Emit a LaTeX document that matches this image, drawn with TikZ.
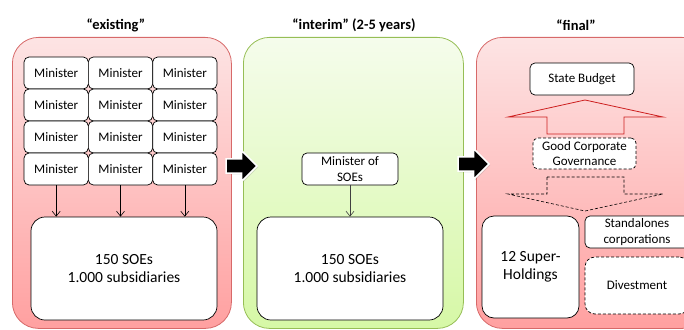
\documentclass[tikz,border=0pt]{standalone}
\usepackage{fontspec}
\setmainfont{Carlito}
\usetikzlibrary{arrows.meta,shapes.arrows,shadows}

\definecolor{pinkTop}{RGB}{253,228,228}
\definecolor{pinkBot}{RGB}{255,160,160}
\definecolor{pinkLine}{RGB}{215,105,105}
\definecolor{greenTop}{RGB}{245,252,236}
\definecolor{greenBot}{RGB}{214,248,166}
\definecolor{greenLine}{RGB}{150,190,85}
\definecolor{budgetRed}{RGB}{205,30,30}

\tikzset{
	panel/.style={rounded corners=26pt, line width=0.8pt, anchor=north west, minimum height=291pt},
	redpanel/.style={panel, draw=pinkLine, top color=pinkTop, bottom color=pinkBot},
	greenpanel/.style={panel, draw=greenLine, top color=greenTop, bottom color=greenBot},
	title/.style={font=\fontsize{14.5}{16}\selectfont\bfseries},
	smallbox/.style={draw, fill=white, rounded corners=5pt, line width=0.7pt, align=center,
		font=\fontsize{13}{15.5}\selectfont, inner sep=1pt},
	minbox/.style={smallbox, minimum width=64.3pt, minimum height=32pt},
	bigbox/.style={draw, fill=white, rounded corners=14pt, line width=0.7pt, align=center,
		font=\fontsize{15.5}{18}\selectfont},
	dashbox/.style={smallbox, dash pattern=on 3pt off 2pt},
	conn/.style={-{Straight Barb[length=5pt,width=8pt]}, line width=0.6pt},
	blockarrow/.style={single arrow, fill=black, draw=white, line width=1.6pt, inner sep=6pt,
		minimum height=31pt, minimum width=31pt, single arrow head extend=8pt,
		drop shadow={shadow xshift=1.2pt, shadow yshift=-1.2pt, opacity=0.25}}
}

\begin{document}
\begin{tikzpicture}[x=1pt,y=-1pt]
	\useasboundingbox (0,0) rectangle (684,329);
	\clip (0,0) rectangle (684,329);

	% three stages
	\node [redpanel, minimum width=219pt] (existing) at (12,37) {};
	\node [greenpanel, minimum width=220pt] (interim) at (243,37) {};
	\node [redpanel, minimum width=232pt] (final) at (476,37) {};

	\node [title] (t-existing) at (116,25) {“existing”};
	\node [title] (t-interim) at (354,25) {“interim” (2-5 years)};
	\node [title] (t-final) at (576,25) {“final”};

	\node [blockarrow] (next-a) at (238,166) {};
	\node [blockarrow] (next-b) at (470,164) {};

	% existing
	\foreach \r in {1,...,4}
		\foreach \c in {1,2,3}
			\node [minbox] (m-\r-\c) at ({56.2+64.3*(\c-1)}, {73+32*(\r-1)}) {Minister};

	\node [bigbox, minimum width=186pt, minimum height=103pt] (soe-a) at (124,268.5) {150 SOEs\\1.000 subsidiaries};

	\foreach \c in {1,2,3}
		\draw [conn] (m-4-\c.south) -- (m-4-\c.south |- soe-a.north);

	% interim
	\node [smallbox, minimum width=96pt, minimum height=32pt] (min-soe) at (350,169) {Minister of\\SOEs};
	\node [bigbox, minimum width=186pt, minimum height=103pt] (soe-b) at (350,268.5) {150 SOEs\\1.000 subsidiaries};
	\draw [conn, black!75] (min-soe) -- (soe-b);

	% final
	\node [smallbox, minimum width=104pt, minimum height=32pt] (budget) at (582,79) {State Budget};
	\node [dashbox, minimum width=103pt, minimum height=31pt] (gcg) at (584.5,153.5) {Good Corporate\\Governance};

	\draw [budgetRed, line width=0.8pt] (547,134) -- (547,117) -- (508,117) -- (585,100)
		-- (663,117) -- (624,117) -- (624,134) -- cycle;
	\draw [line width=0.6pt, dash pattern=on 3pt off 2pt] (547,177) -- (547,194) -- (508,194) -- (585,211)
		-- (663,194) -- (624,194) -- (624,177) -- cycle;

	\node [bigbox, rounded corners=12pt, minimum width=97pt, minimum height=102pt] (holdings) at (530.5,267) {12 Super-\\Holdings};
	\node [smallbox, minimum width=104pt, minimum height=32pt] (standalone) at (637,232) {Standalones\\corporations};
	\node [dashbox, rounded corners=10pt, minimum width=104pt, minimum height=57pt] (divest) at (637,285.5) {Divestment};

\end{tikzpicture}
\end{document}
